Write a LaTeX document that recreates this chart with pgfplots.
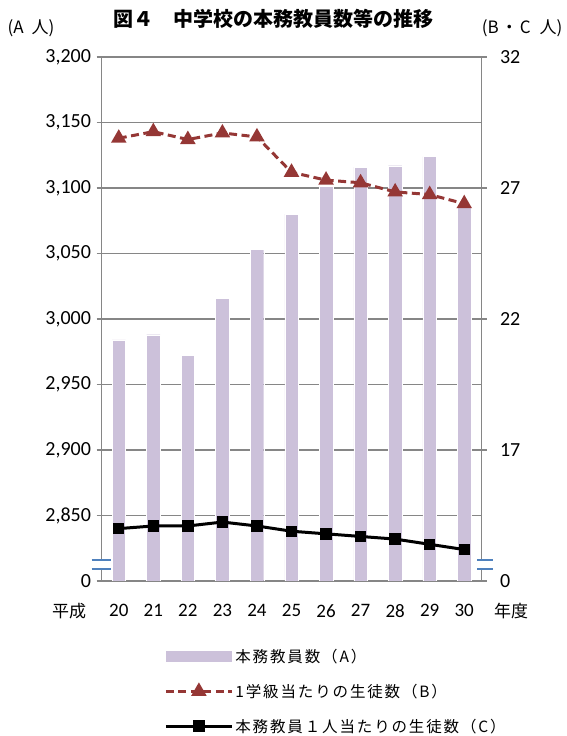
\documentclass[border=0pt]{standalone}
\usepackage{fontspec}
\setmainfont{Carlito}
\newfontfamily\cjk{Noto Sans CJK JP}
\newfontfamily\cjkl{Noto Sans CJK JP}[LetterSpace=12]
\usepackage{pgfplots}
\pgfplotsset{compat=1.18}
\definecolor{barc}{HTML}{CCC1DA}
\definecolor{bcol}{HTML}{953735}
\definecolor{gridc}{HTML}{868686}
\definecolor{brk}{HTML}{4F81BD}
\begin{document}
\begin{tikzpicture}[x=1pt,y=1pt]
\useasboundingbox (0,0) rectangle (567,736);
\begin{axis}[
  scale only axis, width=380pt, height=524pt,
  at={(101.5pt,155pt)}, anchor=south west,
  xmin=19.5, xmax=30.5, ymin=2800, ymax=3200,
  axis x line*=bottom, axis y line*=left,
  axis line style={gridc, line width=1.3pt, -},
  ytick={2800,2850,2900,2950,3000,3050,3100,3150,3200},
  yticklabels={0,{2,850},{2,900},{2,950},{3,000},{3,050},{3,100},{3,150},{3,200}},
  yticklabel style={font=\fontsize{20}{20}\selectfont, xshift=-2pt},
  xtick={20,21,22,23,24,25,26,27,28,29,30},
  xticklabels={20,21,22,23,24,25,26,27,28,29,30},
  xticklabel style={font=\fontsize{19}{19}\selectfont, yshift=-15pt},
  xtick style={draw=none},
  ytick style={gridc, line width=1.3pt},
  tick align=outside, major tick length=5pt,
  ymajorgrids, grid style={gridc, line width=1.3pt},
  ybar, bar width=13.5pt,
]
\addplot[fill=barc, draw=white, line width=0.4pt] coordinates {
 (20,2984) (21,2988) (22,2972) (23,3016) (24,3053) (25,3080)
 (26,3101) (27,3116) (28,3117) (29,3124) (30,3086)};
\coordinate (L1a) at (axis cs:19.216,2816);
\coordinate (L1b) at (axis cs:19.775,2816);
\coordinate (L2a) at (axis cs:19.216,2809);
\coordinate (L2b) at (axis cs:19.775,2809);
\coordinate (R1a) at (axis cs:30.37,2816);
\coordinate (R1b) at (axis cs:30.83,2816);
\coordinate (R2a) at (axis cs:30.37,2809);
\coordinate (R2b) at (axis cs:30.83,2809);
\end{axis}
\begin{axis}[
  scale only axis, width=380pt, height=524pt,
  at={(101.5pt,155pt)}, anchor=south west,
  xmin=19.5, xmax=30.5, ymin=12, ymax=32,
  axis x line=none, axis y line*=right,
  axis line style={gridc, line width=1.3pt, -},
  ytick={12,17,22,27,32},
  yticklabels={0,17,22,27,32},
  yticklabel style={font=\fontsize{20}{20}\selectfont, xshift=10pt},
  ytick style={gridc, line width=1.3pt},
  tick align=outside, major tick length=5pt,
  legend image code/.code={\draw[mark repeat=2,mark phase=2,#1] plot coordinates {(0pt,0pt) (33pt,0pt) (66pt,0pt)};},
  legend style={at={(axis description cs:0.165,-0.126)}, anchor=north west,
    draw=none, fill=none, font=\cjkl\fontsize{15.5}{15.5}\selectfont,
    row sep=16pt, inner sep=0pt},
  legend cell align=left,
]
\addlegendimage{fill=barc, draw=none, legend image code/.code={\fill[barc] (0pt,-5.5pt) rectangle (66pt,5.5pt);}}
\addlegendentry{本務教員数（A）}
\addplot[bcol, line width=3pt, dash pattern=on 8pt off 4.5pt, mark=triangle*, mark size=6pt, mark options={solid, fill=bcol}] coordinates {
 (20,28.9) (21,29.15) (22,28.85) (23,29.1) (24,28.95) (25,27.6)
 (26,27.3) (27,27.2) (28,26.85) (29,26.75) (30,26.4)};
\addlegendentry{1学級当たりの生徒数（B）}
\addplot[black, line width=3pt, mark=square*, mark size=4.2pt, mark options={solid}] coordinates {
 (20,14.0) (21,14.1) (22,14.1) (23,14.25) (24,14.1) (25,13.9)
 (26,13.8) (27,13.7) (28,13.6) (29,13.4) (30,13.2)};
\addlegendentry{本務教員１人当たりの生徒数（C）}
\end{axis}
\fill[white] (L2a) rectangle (L1b);
\fill[white] (R2a) rectangle (R1b);
\draw[brk, line width=1.5pt] (L1a) -- (L1b) (L2a) -- (L2b) (R1a) -- (R1b) (R2a) -- (R2b);
\node[font=\cjk\bfseries\fontsize{20}{20}\selectfont] at (273.5,717) {図４　中学校の本務教員数等の推移};
\node[font=\cjk\fontsize{17}{17}\selectfont, anchor=west] at (4,708) {(A\hspace{8pt}人)};
\node[font=\cjk\fontsize{17}{17}\selectfont, anchor=east] at (566,708) {(B\hspace{2pt}・\hspace{2pt}C\hspace{9pt}人)};
\node[font=\cjk\fontsize{17}{17}\selectfont] at (69,125) {平成};
\node[font=\cjk\fontsize{17}{17}\selectfont] at (511,125) {年度};
\end{tikzpicture}
\end{document}
